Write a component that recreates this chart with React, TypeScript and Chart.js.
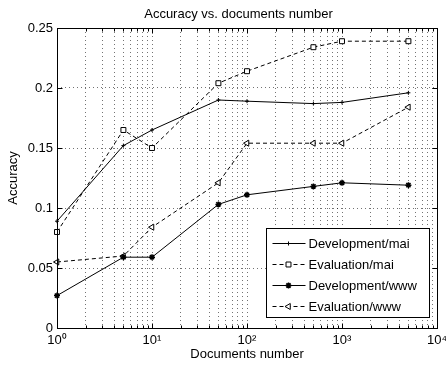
import React, { useEffect, useRef } from 'react';
import { Chart, registerables } from 'chart.js';
import { drawPoint } from 'chart.js/helpers';

Chart.register(...registerables);

const docCounts = [1, 5, 10, 50, 100, 500, 1000, 5000];
const devMai = [0.089, 0.152, 0.165, 0.19, 0.189, 0.187, 0.188, 0.196];
const evalMai = [0.08, 0.165, 0.15, 0.204, 0.214, 0.234, 0.239, 0.239];
const devWww = [0.027, 0.059, 0.059, 0.103, 0.111, 0.118, 0.121, 0.119];
const evalWww = [0.055, 0.06, 0.084, 0.121, 0.154, 0.154, 0.154, 0.184];
const seriesLabels = ['Development/mai', 'Evaluation/mai', 'Development/www', 'Evaluation/www'];
const chartTitle = 'Accuracy vs. documents number';

const xTickValues = [
  1, 2, 3, 4, 5, 6, 7, 8, 9,
  10, 20, 30, 40, 50, 60, 70, 80, 90,
  100, 200, 300, 400, 500, 600, 700, 800, 900,
  1000, 2000, 3000, 4000, 5000, 6000, 7000, 8000, 9000,
  10000,
];
const xMajorLabels: Record<number, string> = {
  1: '10\u2070',
  10: '10\u00B9',
  100: '10\u00B2',
  1000: '10\u00B3',
  10000: '10\u2074',
};
const yTickValues = [0, 0.05, 0.1, 0.15, 0.2, 0.25];
const yTickLabels = ['0', '0.05', '0.1', '0.15', '0.2', '0.25'];

const FONT = '"Liberation Sans", Arial, Helvetica, sans-serif';

const toPoints = (ys: number[]) => docCounts.map((x, i) => ({ x, y: ys[i] }));

const titlePlugin = {
  id: 'axesTitle',
  afterDraw(chart: any) {
    const ctx = chart.ctx as CanvasRenderingContext2D;
    const { left, right, top } = chart.chartArea;
    ctx.save();
    ctx.fillStyle = '#000';
    ctx.font = `13px ${FONT}`;
    ctx.textAlign = 'center';
    ctx.textBaseline = 'middle';
    ctx.fillText(chartTitle, (left + right) / 2 - 8.5, top - 14);
    ctx.restore();
  },
};

const legendPlugin = {
  id: 'insideLegend',
  afterDatasetsDraw(chart: any) {
    const ctx = chart.ctx as CanvasRenderingContext2D;
    const { right, bottom } = chart.chartArea;
    const boxW = 163;
    const boxH = 89;
    const x0 = Math.round(right - 8 - boxW) + 0.5;
    const y0 = Math.round(bottom - 11 - boxH) + 0.5;
    ctx.save();
    ctx.fillStyle = '#fff';
    ctx.fillRect(x0, y0, boxW, boxH);
    ctx.strokeStyle = '#000';
    ctx.lineWidth = 1;
    ctx.setLineDash([]);
    ctx.strokeRect(x0, y0, boxW, boxH);
    chart.data.datasets.forEach((ds: any, i: number) => {
      const y = Math.round(y0 + 14 + i * 21.3);
      ctx.strokeStyle = ds.borderColor;
      ctx.lineWidth = ds.borderWidth;
      ctx.setLineDash(ds.borderDash || []);
      ctx.beginPath();
      ctx.moveTo(x0 + 6, y + 0.5);
      ctx.lineTo(x0 + 39, y + 0.5);
      ctx.stroke();
      ctx.setLineDash([]);
      ctx.fillStyle = ds.pointBackgroundColor;
      ctx.strokeStyle = ds.pointBorderColor;
      ctx.lineWidth = ds.pointBorderWidth;
      drawPoint(ctx, {
        pointStyle: ds.pointStyle,
        rotation: ds.pointRotation || 0,
        radius: ds.pointRadius,
        borderWidth: ds.pointBorderWidth,
      } as any, x0 + 22, y + 0.5);
      ctx.fillStyle = '#000';
      ctx.font = `13px ${FONT}`;
      ctx.textBaseline = 'middle';
      ctx.textAlign = 'left';
      ctx.fillText(ds.label, x0 + 42, y + 1);
    });
    ctx.restore();
  },
};

const framePlugin = {
  id: 'matlabFrame',
  afterDraw(chart: any) {
    const ctx = chart.ctx as CanvasRenderingContext2D;
    const { left, right, top, bottom } = chart.chartArea;
    const xs = chart.scales.x;
    const ys = chart.scales.y;
    ctx.save();
    ctx.strokeStyle = '#000';
    ctx.lineWidth = 1;
    ctx.setLineDash([]);
    const L = Math.round(left) + 0.5;
    const R = Math.round(right) + 0.5;
    const T = Math.round(top) + 0.5;
    const B = Math.round(bottom) + 0.5;
    ctx.strokeRect(L, T, R - L, B - T);
    ctx.beginPath();
    xTickValues.forEach((v) => {
      const px = Math.round(xs.getPixelForValue(v)) + 0.5;
      const len = xMajorLabels[v] ? 5 : 3;
      ctx.moveTo(px, B);
      ctx.lineTo(px, B - len);
      ctx.moveTo(px, T);
      ctx.lineTo(px, T + len);
    });
    yTickValues.forEach((v) => {
      const py = Math.round(ys.getPixelForValue(v)) + 0.5;
      ctx.moveTo(L, py);
      ctx.lineTo(L + 5, py);
      ctx.moveTo(R, py);
      ctx.lineTo(R - 5, py);
    });
    ctx.stroke();
    ctx.restore();
  },
};

export default function App() {
  const canvasRef = useRef<HTMLCanvasElement | null>(null);

  useEffect(() => {
    const canvas = canvasRef.current;
    if (!canvas) return;
    const common = {
      borderColor: '#000',
      borderWidth: 1,
      pointBorderColor: '#000',
      pointBorderWidth: 1,
      pointBackgroundColor: '#fff',
      fill: false,
      tension: 0,
      clip: false as any,
    };
    const chart = new Chart(canvas, {
      type: 'line',
      data: {
        datasets: [
          {
            ...common,
            label: seriesLabels[0],
            data: toPoints(devMai),
            borderDash: [],
            pointStyle: 'cross',
            pointRadius: 2,
          },
          {
            ...common,
            label: seriesLabels[1],
            data: toPoints(evalMai),
            borderDash: [4, 3],
            pointStyle: 'rect',
            pointRadius: 3.5,
          },
          {
            ...common,
            label: seriesLabels[2],
            data: toPoints(devWww),
            borderDash: [],
            pointStyle: 'star',
            pointRadius: 3,
            pointBorderWidth: 1.5,
            pointBackgroundColor: '#000',
          },
          {
            ...common,
            label: seriesLabels[3],
            data: toPoints(evalWww),
            borderDash: [4, 3],
            pointStyle: 'triangle',
            pointRotation: -90,
            pointRadius: 3.5,
          },
        ] as any,
      },
      options: {
        responsive: false,
        animation: false,
        devicePixelRatio: 1,
        layout: { padding: { left: 0, right: 9, top: 28, bottom: 0 } },
        plugins: {
          legend: { display: false },
          tooltip: { enabled: false },
          title: { display: false },
        },
        scales: {
          x: {
            type: 'logarithmic',
            min: 1,
            max: 10000,
            afterBuildTicks: (scale: any) => {
              scale.ticks = xTickValues.map((v) => ({ value: v, major: !!xMajorLabels[v] }));
            },
            afterFit: (scale: any) => {
              scale.height = 38;
              scale.paddingLeft = 0;
              scale.paddingRight = 0;
            },
            ticks: {
              autoSkip: false,
              maxRotation: 0,
              minRotation: 0,
              padding: 5,
              color: '#000',
              font: { family: FONT, size: 13 },
              callback: (value: any) => xMajorLabels[Number(value)] || '',
            },
            grid: {
              display: true,
              color: 'rgba(0,0,0,0.55)',
              lineWidth: 1,
              drawTicks: false,
            },
            border: { display: false, dash: [1, 3] },
            title: {
              display: true,
              text: 'Documents number',
              color: '#000',
              font: { family: FONT, size: 13 },
              padding: { top: 0, bottom: 4 },
            },
          },
          y: {
            type: 'linear',
            min: 0,
            max: 0.25,
            afterBuildTicks: (scale: any) => {
              scale.ticks = yTickValues.map((v) => ({ value: v }));
            },
            afterFit: (scale: any) => {
              scale.width = 57;
              scale.paddingTop = 0;
              scale.paddingBottom = 0;
            },
            ticks: {
              padding: 4,
              color: '#000',
              font: { family: FONT, size: 13 },
              callback: (value: any) => {
                const i = yTickValues.findIndex((v) => Math.abs(v - Number(value)) < 1e-9);
                return i >= 0 ? yTickLabels[i] : '';
              },
            },
            grid: {
              display: true,
              color: 'rgba(0,0,0,0.55)',
              lineWidth: 1,
              drawTicks: false,
            },
            border: { display: false, dash: [1, 3] },
            title: {
              display: true,
              text: 'Accuracy',
              color: '#000',
              font: { family: FONT, size: 13 },
              padding: { top: 6, bottom: 0 },
            },
          },
        },
      } as any,
      plugins: [legendPlugin, framePlugin, titlePlugin],
    });
    return () => chart.destroy();
  }, []);

  return (
    <div style={{ position: 'fixed', left: 0, top: 0, width: 446, height: 366, background: '#fff' }}>
      <canvas ref={canvasRef} width={446} height={366} style={{ display: 'block' }} />
    </div>
  );
}
